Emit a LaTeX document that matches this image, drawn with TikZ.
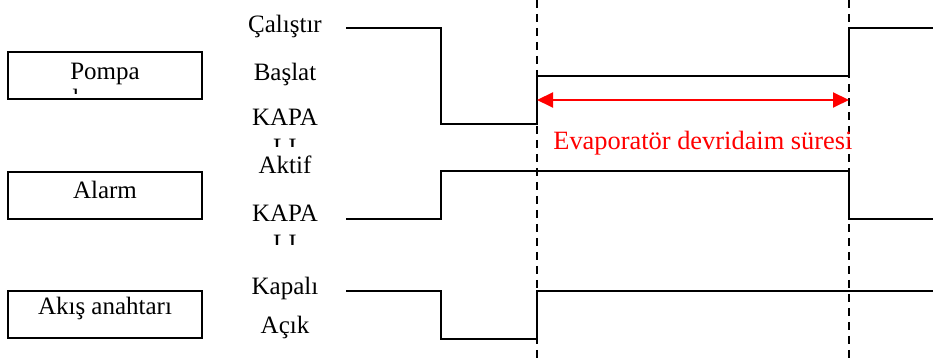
\documentclass[tikz,border=0pt]{standalone}
\usepackage{fontspec}
\setmainfont{Liberation Serif}
\usetikzlibrary{arrows.meta}
\begin{document}
\begin{tikzpicture}[x=0.5pt,y=-0.5pt,
  lbl/.style={anchor=base,inner sep=0pt,font=\fontsize{12.5}{15}\selectfont},
  sigbox/.style={draw,line width=1pt,inner sep=0pt,minimum width=97pt,minimum height=23.5pt},
  wave/.style={line width=1pt,line join=miter},
  marker/.style={dashed,dash pattern=on 4pt off 3pt,line width=0.75pt},
  span/.style={red,line width=1pt,{Triangle[length=8pt,width=7.5pt]}-{Triangle[length=8pt,width=7.5pt]}}]
\useasboundingbox (0,0) rectangle (933,362);

% signal name boxes
\node[sigbox] (pbox) at (105,75.5) {};
\node[sigbox] (abox) at (105,195.5) {};
\node[sigbox] (fbox) at (105,314.5) {};
\node[lbl] (ptxt) at (105,80) {Pompa};
\begin{scope}
  \clip (20,84) rectangle (190,94);
  \node[lbl] (ptxt2) at (105,107) {durumu};
\end{scope}
\node[lbl] (atxt) at (105,199) {Alarm};
\node[lbl] (ftxt) at (105,315) {Akış anahtarı};

% state labels
\node[lbl] (run) at (285,33) {Çalıştır};
\node[lbl] (start) at (285,81) {Başlat};
\node[lbl] (off1) at (285,126) {KAPA};
\begin{scope}
  \clip (250,136) rectangle (320,146.5);
  \node[lbl] (off1b) at (285,156) {LI};
\end{scope}
\node[lbl] (act) at (285,174) {Aktif};
\node[lbl] (off2) at (285,222) {KAPA};
\begin{scope}
  \clip (250,232) rectangle (320,245);
  \node[lbl] (off2b) at (285,252) {LI};
\end{scope}
\node[lbl] (closed) at (285,295) {Kapalı};
\node[lbl] (open) at (285,334) {Açık};

% time markers
\coordinate (t1top) at (537,0);
\coordinate (t1bot) at (537,362);
\coordinate (t2top) at (849,0);
\coordinate (t2bot) at (849,362);
\draw[marker] (t1top) -- (t1bot);
\draw[marker] (t2top) -- (t2bot);

% pump state
\draw[wave] (346,28) -- (441,28) -- (441,124) -- (537,124) -- (537,76)
  -- (849,76) -- (849,28) -- (933,28);
% alarm
\draw[wave] (346,219) -- (441,219) -- (441,171) -- (849,171) -- (849,219) -- (933,219);
% flow switch
\draw[wave] (346,291) -- (441,291) -- (441,339) -- (537,339) -- (537,291) -- (933,291);

% evaporator circulation time
\coordinate (s1) at (537,100);
\coordinate (s2) at (849,100);
\draw[span] (s1) -- (s2);
\node[lbl,anchor=base west,text=red,font=\fontsize{13.2}{16}\selectfont] (dur) at (553,150) {Evaporatör devridaim süresi};
\end{tikzpicture}
\end{document}
